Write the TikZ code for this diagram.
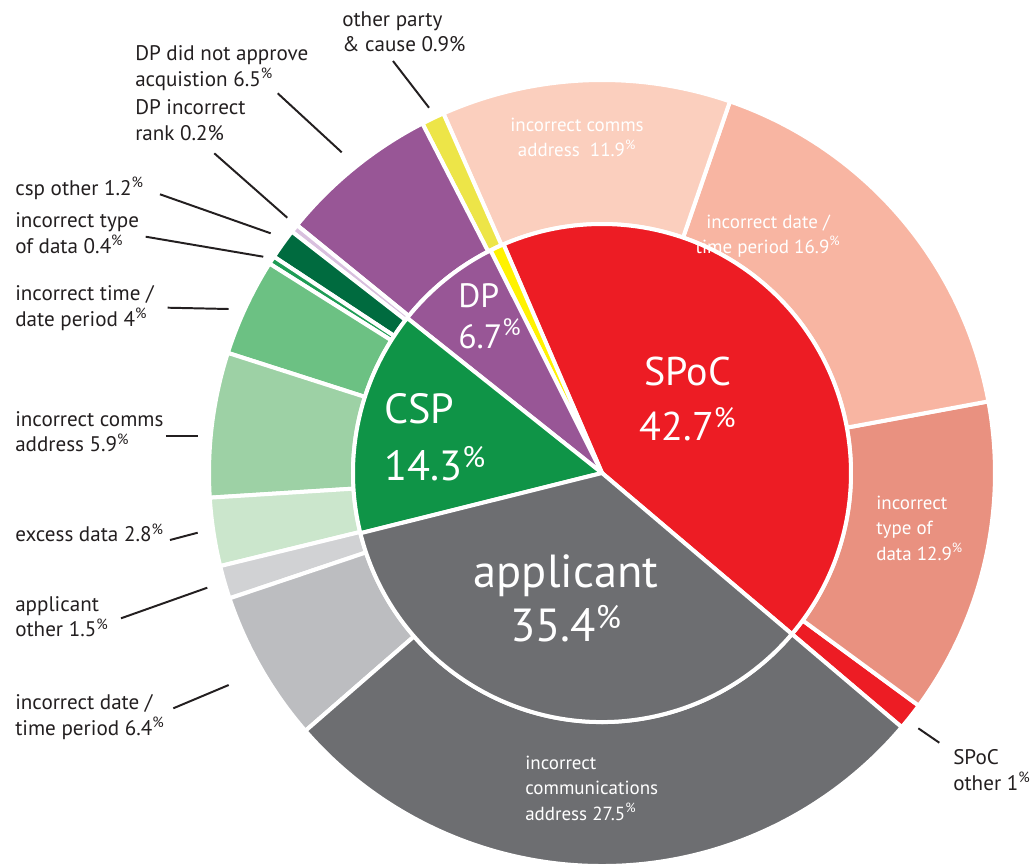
\documentclass[tikz,border=0pt]{standalone}
\usepackage{fontspec}
\setmainfont{PT Sans}

\definecolor{txtgray}{HTML}{231F20}
\definecolor{spocred}{HTML}{ED1C24}
\definecolor{spoccomms}{HTML}{FBCFBE}
\definecolor{spocdate}{HTML}{F8B5A2}
\definecolor{spoctype}{HTML}{E99180}
\definecolor{applgray}{HTML}{6D6E71}
\definecolor{appldate}{HTML}{BCBDC0}
\definecolor{applother}{HTML}{D1D2D4}
\definecolor{cspgreen}{HTML}{0F9447}
\definecolor{cspexcess}{HTML}{CBE6CC}
\definecolor{cspcomms}{HTML}{9DD1A5}
\definecolor{csptime}{HTML}{6CC183}
\definecolor{csptype}{HTML}{1E9C55}
\definecolor{cspother}{HTML}{006B3F}
\definecolor{dppurple}{HTML}{985696}
\definecolor{dprank}{HTML}{D9C0DE}
\definecolor{otherouter}{HTML}{EDE548}
\definecolor{otherinner}{HTML}{FFF200}

\tikzset{
  seg/.style={draw=white, line width=2.85pt, line join=round},
  outlbl/.style={font=\fontsize{15}{18}\selectfont, text=txtgray, align=left, anchor=base west, inner sep=0pt},
  inlbl/.style={font=\fontsize{13.5}{17.8}\selectfont, text=white, inner sep=0pt},
  biglbl/.style={text=white, inner sep=0pt},
  leader/.style={draw=txtgray, line width=1.4pt}
}

\def\rin{249}
\def\rout{393}
\def\ringpart[#1](#2:#3){\filldraw[seg,#1] (#2:\rin) -- (#2:\rout) arc[start angle=#2, end angle=#3, radius=\rout] -- (#3:\rin) arc[start angle=#3, end angle=#2, radius=\rin] -- cycle;}
\def\piepart[#1](#2:#3){\filldraw[seg,#1] (0,0) -- (#2:\rin) arc[start angle=#2, end angle=#3, radius=\rin] -- cycle;}
\newcommand\pct{\textsuperscript{\%}}

\begin{document}
\begin{tikzpicture}[x=0.025cm,y=0.025cm]
  %%%%% START %%%%%
  \useasboundingbox (-602,-391) rectangle (428,473);

  % outer ring
  \ringpart[fill=spocred](-40.3:-36.3)
  \ringpart[fill=spoctype](-36.3:10.5)
  \ringpart[fill=spocdate](10.5:71)
  \ringpart[fill=spoccomms](71:113.8)
  \ringpart[fill=otherouter](113.8:117.2)
  \ringpart[fill=dppurple](117.2:140.9)
  \ringpart[fill=dprank](140.9:142.1)
  \ringpart[fill=cspother](142.1:146.6)
  \ringpart[fill=csptype](146.6:147.8)
  \ringpart[fill=csptime](147.8:162.2)
  \ringpart[fill=cspcomms](162.2:183.6)
  \ringpart[fill=cspexcess](183.6:193.7)
  \ringpart[fill=applother](193.7:198.6)
  \ringpart[fill=appldate](198.6:221)
  \ringpart[fill=applgray](221:319.7)

  % inner pie
  \piepart[fill=spocred](-40.3:113.3)
  \piepart[fill=otherinner](113.3:116.6)
  \piepart[fill=dppurple](116.6:141.5)
  \piepart[fill=cspgreen](141.5:194)
  \piepart[fill=applgray](194:319.7)

  % big labels (anchored at the baseline of the last line)
  \node[biglbl, align=center, anchor=base, font=\fontsize{28.5}{39}\selectfont] (spoc) at (86,33) {SPoC\\42.7\pct};
  \node[biglbl, align=left, anchor=base west, font=\fontsize{24}{28.5}\selectfont] (dp) at (-144,125) {DP\\6.7\pct};
  \node[biglbl, align=left, anchor=base west, font=\fontsize{30}{40.5}\selectfont] (csp) at (-218,-7) {CSP\\14.3\pct};
  \node[biglbl, align=center, anchor=base, font=\fontsize{33}{37.7}\selectfont] (appl) at (-36,-168) {applicant\\35.4\pct};

  % labels inside the ring
  \node[inlbl, align=center, anchor=base] (spoc-comms) at (-25,316.3) {incorrect comms\\address\ \ 11.9\pct};
  \node[inlbl, align=center, anchor=base] (spoc-date) at (166,219.7) {incorrect date /\\time period 16.9\pct};
  \node[inlbl, align=left, anchor=base west] (spoc-type) at (274,-87) {incorrect\\type of\\data 12.9\pct};
  \node[inlbl, align=left, anchor=base west] (appl-comms) at (-77,-347) {incorrect\\communications\\address 27.5\pct};

  % labels outside
  \node[outlbl] (other-lbl) at (-260,421.3) {other party\\\& cause 0.9\%};
  \node[outlbl] (dpapp-lbl) at (-467,387) {DP did not approve\\acquistion 6.5\pct};
  \node[outlbl] (dprank-lbl) at (-467,333) {DP incorrect\\rank 0.2\%};
  \node[outlbl] (cspother-lbl) at (-587,278) {csp other 1.2\pct};
  \node[outlbl] (csptype-lbl) at (-587,219.7) {incorrect type\\of data 0.4\pct};
  \node[outlbl] (csptime-lbl) at (-587,147) {incorrect time /\\date period 4\pct};
  \node[outlbl] (cspcomms-lbl) at (-587,21.3) {incorrect comms\\address 5.9\pct};
  \node[outlbl] (cspexcess-lbl) at (-587,-68.7) {excess data 2.8\pct};
  \node[outlbl] (applother-lbl) at (-587,-163.7) {applicant\\other 1.5\pct};
  \node[outlbl] (appldate-lbl) at (-587,-262) {incorrect date /\\time period 6.4\pct};
  \node[outlbl] (spocother-lbl) at (351,-317) {SPoC\\other 1\pct};

  % leader lines
  \coordinate (other-a) at (-209,412);       \coordinate (other-b) at (-173,365.3);
  \coordinate (dpapp-a) at (-324.3,379.7);   \coordinate (dpapp-b) at (-260.3,320.7);
  \coordinate (dprank-a) at (-387.7,319.7);  \coordinate (dprank-b) at (-314.7,255.3);
  \coordinate (cspother-a) at (-442,278.7);  \coordinate (cspother-b) at (-331.3,239.7);
  \coordinate (csptype-a) at (-456.3,236.3); \coordinate (csptype-b) at (-338.7,216.3);
  \coordinate (csptime-a) at (-434.3,165.3); \coordinate (csptime-b) at (-373.3,164);
  \coordinate (cspcomms-a) at (-436,37);     \coordinate (cspcomms-b) at (-404.3,37);
  \coordinate (cspexcess-a) at (-432,-67);   \coordinate (cspexcess-b) at (-404.3,-59.7);
  \coordinate (applother-a) at (-481,-145.3); \coordinate (applother-b) at (-394.7,-114.7);
  \coordinate (appldate-a) at (-428.7,-235.3); \coordinate (appldate-b) at (-373.3,-212);
  \coordinate (spocother-a) at (337.3,-269.7); \coordinate (spocother-b) at (316.3,-255.3);

  \foreach \n in {other,dpapp,dprank,cspother,csptype,csptime,cspcomms,cspexcess,applother,appldate,spocother}
    \draw[leader] (\n-a) -- (\n-b);

  %%%%% END %%%%%
\end{tikzpicture}
\end{document}
